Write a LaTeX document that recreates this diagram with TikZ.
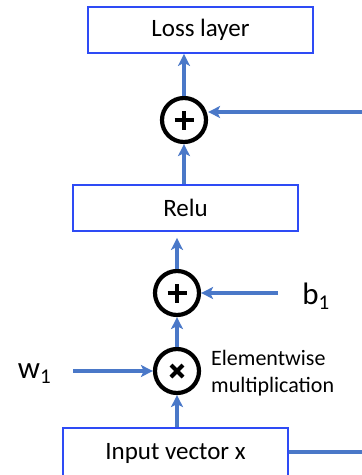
\documentclass[tikz,border=0pt]{standalone}
\usepackage{fontspec}
\setmainfont{Carlito}
\usetikzlibrary{arrows.meta}
\definecolor{boxblue}{HTML}{2E4BF5}
\definecolor{arrblue}{HTML}{4A78C8}
\tikzset{
  layerbox/.style={draw=boxblue, line width=1.8pt, fill=white, minimum height=46pt, inner sep=0pt, font=\fontsize{25}{28}\selectfont},
  opcirc/.style={circle, draw=black, line width=4.2pt, minimum size=44pt, inner sep=0pt},
  arr/.style={draw=arrblue, line width=3.2pt, -{Stealth[length=12pt,width=12pt,inset=3pt]}},
  plainline/.style={draw=arrblue, line width=3.2pt},
  varlabel/.style={font=\fontsize{31}{34}\selectfont, inner sep=0pt},
  notelabel/.style={font=\fontsize{22}{27}\selectfont, align=left, inner sep=0pt, anchor=west},
  signline/.style={line width=4pt, line cap=butt}
}
\begin{document}
\begin{tikzpicture}[x=1pt,y=-1pt]
\useasboundingbox (0,0) rectangle (362,475);
\begin{scope}
\clip (0,0) rectangle (362,475);
% boxes
\node[layerbox, minimum width=225pt] (loss) at (200.5,30) {Loss layer};
\node[layerbox, minimum width=225pt] (relu) at (185.5,208) {Relu};
\node[layerbox, minimum width=225pt, minimum height=60pt] (inp) at (175.5,458) {};
\node[font=\fontsize{25}{28}\selectfont] (inptext) at (175.5,453) {Input vector x};
% operator circles
\node[opcirc] (p2) at (184,120) {};
\node[opcirc] (p1) at (177,293) {};
\node[opcirc] (mx) at (177,371) {};
\draw[signline] ([xshift=-9.5pt]p2.center) -- ([xshift=9.5pt]p2.center);
\draw[signline] ([yshift=-9.5pt]p2.center) -- ([yshift=9.5pt]p2.center);
\draw[signline] ([xshift=-9.5pt]p1.center) -- ([xshift=9.5pt]p1.center);
\draw[signline] ([yshift=-9.5pt]p1.center) -- ([yshift=9.5pt]p1.center);
\draw[signline] ([shift={(-6pt,-6pt)}]mx.center) -- ([shift={(6pt,6pt)}]mx.center);
\draw[signline] ([shift={(-6pt,6pt)}]mx.center) -- ([shift={(6pt,-6pt)}]mx.center);
% labels
\node[varlabel] (b1) at (316,296) {b\textsubscript{\fontsize{21}{24}\selectfont 1}};
\node[varlabel] (w1) at (34.5,374) {w\textsubscript{\fontsize{21}{24}\selectfont 1}};
\node[notelabel] (note) at (211,373) {Elementwise\\multiplication};
% free ends
\coordinate (rin) at (364,112);
\coordinate (rout) at (364,452);
\coordinate (bstart) at (278,293);
\coordinate (wstart) at (73,371);
% connectors
\draw[arr] (p2.north) -- (p2.north |- loss.south);
\draw[arr] (rin) -- (rin -| p2.east);
\draw[arr] (relu.north -| p2.south) -- (p2.south);
\draw[arr, shorten >=6pt] (p1.north) -- (p1.north |- relu.south);
\draw[arr] (bstart) -- (p1.east);
\draw[arr] (mx.north) -- (p1.south);
\draw[arr] (wstart) -- (mx.west);
\draw[arr] (inp.north -| mx.south) -- (mx.south);
\draw[plainline] (inp.east |- rout) -- (rout);
\end{scope}
\end{tikzpicture}
\end{document}
